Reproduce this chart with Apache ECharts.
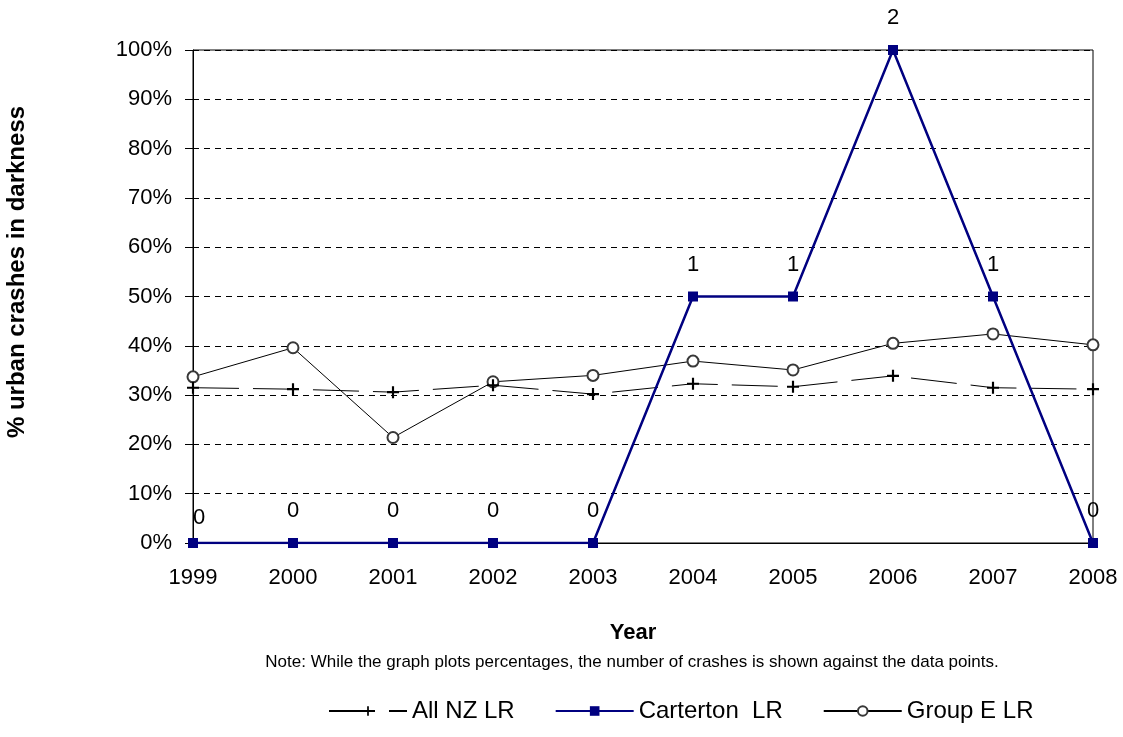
<!DOCTYPE html>
<html>
<head>
<meta charset="utf-8">
<script src="https://cdn.jsdelivr.net/npm/echarts@6/dist/echarts.min.js"></script>
<style>
html,body{margin:0;padding:0;background:#fff;}
#chart{width:1123px;height:737px;}
</style>
</head>
<body>
<div id="chart"></div>
<script>
var years = ['1999','2000','2001','2002','2003','2004','2005','2006','2007','2008'];
var allNZ = [31.5, 31.2, 30.6, 32.0, 30.2, 32.3, 31.7, 33.9, 31.5, 31.2];
var carterton = [0, 0, 0, 0, 0, 50, 50, 100, 50, 0];
var cartertonCounts = [0, 0, 0, 0, 0, 1, 1, 2, 1, 0];
var groupE = [33.7, 39.6, 21.4, 32.7, 34.0, 36.9, 35.1, 40.5, 42.4, 40.2];

var FONT = '"Liberation Sans", Arial, sans-serif';
var plus = 'path://M4.1,0 H5.9 V4.1 H10 V5.9 H5.9 V10 H4.1 V5.9 H0 V4.1 H4.1 Z';

var chart = echarts.init(document.getElementById('chart'));
chart.setOption({
  animation: false,
  backgroundColor: '#fff',
  textStyle: {fontFamily: FONT},
  grid: {left: 193, right: 30, top: 50, bottom: 194, show: true, borderColor: '#000', borderWidth: 1},
  xAxis: {
    type: 'category', data: years, boundaryGap: false,
    axisLine: {lineStyle: {color: '#000', width: 1}},
    axisTick: {show: false},
    axisLabel: {color: '#000', fontSize: 22, margin: 24, fontFamily: FONT}
  },
  yAxis: {
    type: 'value', min: 0, max: 100, interval: 10,
    axisLine: {show: true, lineStyle: {color: '#000', width: 1}},
    axisTick: {show: true, length: 8, lineStyle: {color: '#000'}},
    axisLabel: {color: '#000', fontSize: 22, margin: 21, fontFamily: FONT, formatter: '{value}%'},
    splitLine: {show: true, lineStyle: {color: '#000', type: [6, 5], width: 1}}
  },
  legend: {
    top: 694, left: 323,
    itemWidth: 78, itemHeight: 12, itemGap: 40,
    textStyle: {color: '#000', fontSize: 24, fontFamily: FONT},
    data: ['All NZ LR', 'Carterton  LR', 'Group E LR']
  },
  graphic: [
    {type: 'text', x: 17, y: 272, rotation: Math.PI/2, style: {text: '% urban crashes in darkness', font: 'bold 24px ' + FONT, fill: '#000', align: 'center', verticalAlign: 'middle'}},
    {type: 'text', x: 633, y: 633, style: {text: 'Year', font: 'bold 22px ' + FONT, fill: '#000', align: 'center', verticalAlign: 'middle'}},
    {type: 'text', x: 632, y: 662, style: {text: 'Note: While the graph plots percentages, the number of crashes is shown against the data points.', font: '17px ' + FONT, fill: '#000', align: 'center', verticalAlign: 'middle'}}
  ],
  series: [
    {
      name: 'All NZ LR', type: 'line', data: allNZ,
      symbol: plus, symbolSize: 12,
      itemStyle: {color: '#000'},
      lineStyle: {color: '#000', width: 1, type: [46, 14]},
      z: 3
    },
    {
      name: 'Carterton  LR', type: 'line',
      data: carterton.map(function(v, i){
        var d = {value: v};
        if (i === 0) d.label = {offset: [6, 7]};
        return d;
      }),
      symbol: 'rect', symbolSize: 10,
      itemStyle: {color: '#000080'},
      lineStyle: {color: '#000080', width: 2.5},
      label: {show: true, position: 'top', distance: 16, color: '#000', fontSize: 22, fontFamily: FONT,
        formatter: function(p){ return String(cartertonCounts[p.dataIndex]); }},
      z: 4
    },
    {
      name: 'Group E LR', type: 'line', data: groupE,
      symbol: 'emptyCircle', symbolSize: 11,
      itemStyle: {color: '#383838', borderColor: '#383838', borderWidth: 2},
      lineStyle: {color: '#000', width: 1},
      z: 2
    }
  ]
});
</script>
</body>
</html>
